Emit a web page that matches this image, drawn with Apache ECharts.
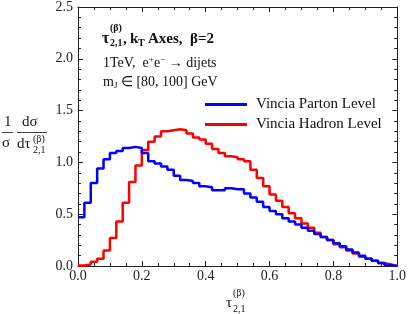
<!DOCTYPE html>
<html><head><meta charset="utf-8">
<script src="https://cdn.jsdelivr.net/npm/echarts@6/dist/echarts.min.js"></script>
<style>html,body{margin:0;padding:0;background:#fff}#c{width:409px;height:314px}</style>
</head><body><div id="c"></div>
<script>
const binEdges = [0.00,0.02,0.04,0.06,0.08,0.10,0.12,0.14,0.16,0.18,0.20,0.22,0.24,0.26,0.28,0.30,0.32,0.34,0.36,0.38,0.40,0.42,0.44,0.46,0.48,0.50,0.52,0.54,0.56,0.58,0.60,0.62,0.64,0.66,0.68,0.70,0.72,0.74,0.76,0.78,0.80,0.82,0.84,0.86,0.88,0.90,0.92,0.94,0.96,0.98,1.00];
const partonLevel = [0.47,0.61,0.80,0.94,1.03,1.09,1.11,1.14,1.15,1.14,1.09,1.01,0.99,0.96,0.93,0.87,0.83,0.82,0.80,0.77,0.76,0.73,0.73,0.75,0.74,0.74,0.70,0.66,0.62,0.57,0.53,0.50,0.46,0.43,0.40,0.37,0.34,0.31,0.28,0.25,0.22,0.19,0.16,0.13,0.10,0.07,0.05,0.03,0.01,0.0];
const hadronLevel = [0.005,0.015,0.04,0.07,0.15,0.27,0.43,0.61,0.81,0.97,1.12,1.20,1.25,1.30,1.31,1.32,1.31,1.28,1.24,1.22,1.18,1.13,1.09,1.06,1.05,1.03,1.01,0.93,0.85,0.77,0.69,0.63,0.57,0.51,0.46,0.41,0.37,0.32,0.28,0.25,0.21,0.18,0.15,0.12,0.09,0.07,0.05,0.03,0.015,0.0];
const seriesNames = ['Vincia Parton Level','Vincia Hadron Level'];
const xTicks = {min:0, max:1, interval:0.2};
const yTicks = {min:0, max:2.5, interval:0.5};

function stepData(vals){
  const d = vals.map((v,i)=>[binEdges[i], v]);
  d.push([binEdges[vals.length], vals[vals.length-1]]);
  return d;
}
const F = 'Liberation Serif';
const ax = '#222';
function xAxisCfg(pos, labels){
  return {type:'value', position:pos, min:xTicks.min, max:xTicks.max, interval:xTicks.interval,
    axisLine:{show:true, onZero:false, lineStyle:{color:ax,width:1}},
    axisTick:{show:true, inside:true, length:5, lineStyle:{color:ax}},
    minorTick:{show:true, splitNumber:4, length:3, lineStyle:{color:ax}},
    splitLine:{show:false},
    axisLabel:{show:labels, fontFamily:F, fontSize:14, color:'#222', margin:3, formatter:v=>v.toFixed(1)}};
}
function yAxisCfg(pos, labels){
  return {type:'value', position:pos, min:yTicks.min, max:yTicks.max, interval:yTicks.interval,
    axisLine:{show:true, onZero:false, lineStyle:{color:ax,width:1}},
    axisTick:{show:true, inside:true, length:5, lineStyle:{color:ax}},
    minorTick:{show:true, splitNumber:5, length:3, lineStyle:{color:ax}},
    splitLine:{show:false},
    axisLabel:{show:labels, fontFamily:F, fontSize:14, color:'#222', margin:5, formatter:v=>v.toFixed(1)}};
}
const txt = (x,y,t,size,extra)=>Object.assign({type:'text', x:x, y:y, style:Object.assign({text:t, fontFamily:F, fontSize:size, fill:'#111', textVerticalAlign:'middle'}, extra||{})});
const chart = echarts.init(document.getElementById('c'));
chart.setOption({
  animation:false,
  grid:{left:78, right:8, top:4, bottom:48},
  xAxis:[xAxisCfg('bottom',true), xAxisCfg('top',false)],
  yAxis:[yAxisCfg('left',true), yAxisCfg('right',false)],
  legend:{left:200, top:92, orient:'vertical', itemGap:5, itemWidth:42, itemHeight:3, icon:'rect',
    textStyle:{fontFamily:F, fontSize:15, color:'#111', padding:[0,0,0,4]}, data:seriesNames},
  series:[
    {name:seriesNames[0], type:'line', step:'end', showSymbol:false, data:stepData(partonLevel), color:'#0000ff', lineStyle:{color:'#0000ff', width:2.5}, z:3},
    {name:seriesNames[1], type:'line', step:'end', showSymbol:false, data:stepData(hadronLevel), color:'#ff0000', lineStyle:{color:'#ff0000', width:2.5}, z:2}
  ],
  graphic:[
    // annotation line 1 (bold)
    txt(102,39,'τ',16,{fontWeight:'bold'}),
    txt(110,28,'(β)',10,{fontWeight:'bold'}),
    txt(110,43,'2,1',10,{fontWeight:'bold'}),
    txt(123,39,',',15,{fontWeight:'bold'}),
    txt(130,39,'k',15,{fontWeight:'bold'}),
    txt(138,43,'T',10,{fontWeight:'bold'}),
    txt(148,39,'Axes,  β=2',15,{fontWeight:'bold'}),
    // line 2
    {type:'text', x:103, y:63, style:{text:'1TeV,  e{s|+}e{s|−} → dijets', fontFamily:F, fontSize:14, fill:'#111', textVerticalAlign:'middle',
      rich:{s:{fontFamily:F, fontSize:9, verticalAlign:'top', lineHeight:16}}}},
    // line 3
    {type:'text', x:103, y:82, style:{text:'m{b|J} ∈ [80, 100] GeV', fontFamily:F, fontSize:14, fill:'#111', textVerticalAlign:'middle',
      rich:{b:{fontFamily:F, fontSize:9, verticalAlign:'bottom', lineHeight:16}}}},
    // y axis label fraction
    txt(4,122,'1',15),
    {type:'line', shape:{x1:2, y1:132.5, x2:13, y2:132.5}, style:{stroke:'#111', lineWidth:0.8}},
    txt(2,143,'σ',15),
    txt(22,122,'dσ',15),
    {type:'line', shape:{x1:17, y1:132.5, x2:47, y2:132.5}, style:{stroke:'#111', lineWidth:0.8}},
    txt(17,144,'dτ',15),
    txt(33,139,'(β)',10),
    txt(33,150,'2,1',10),
    // x axis label
    txt(226,303,'τ',15),
    txt(233,293,'(β)',10),
    txt(233,309,'2,1',10)
  ]
});
</script></body></html>
